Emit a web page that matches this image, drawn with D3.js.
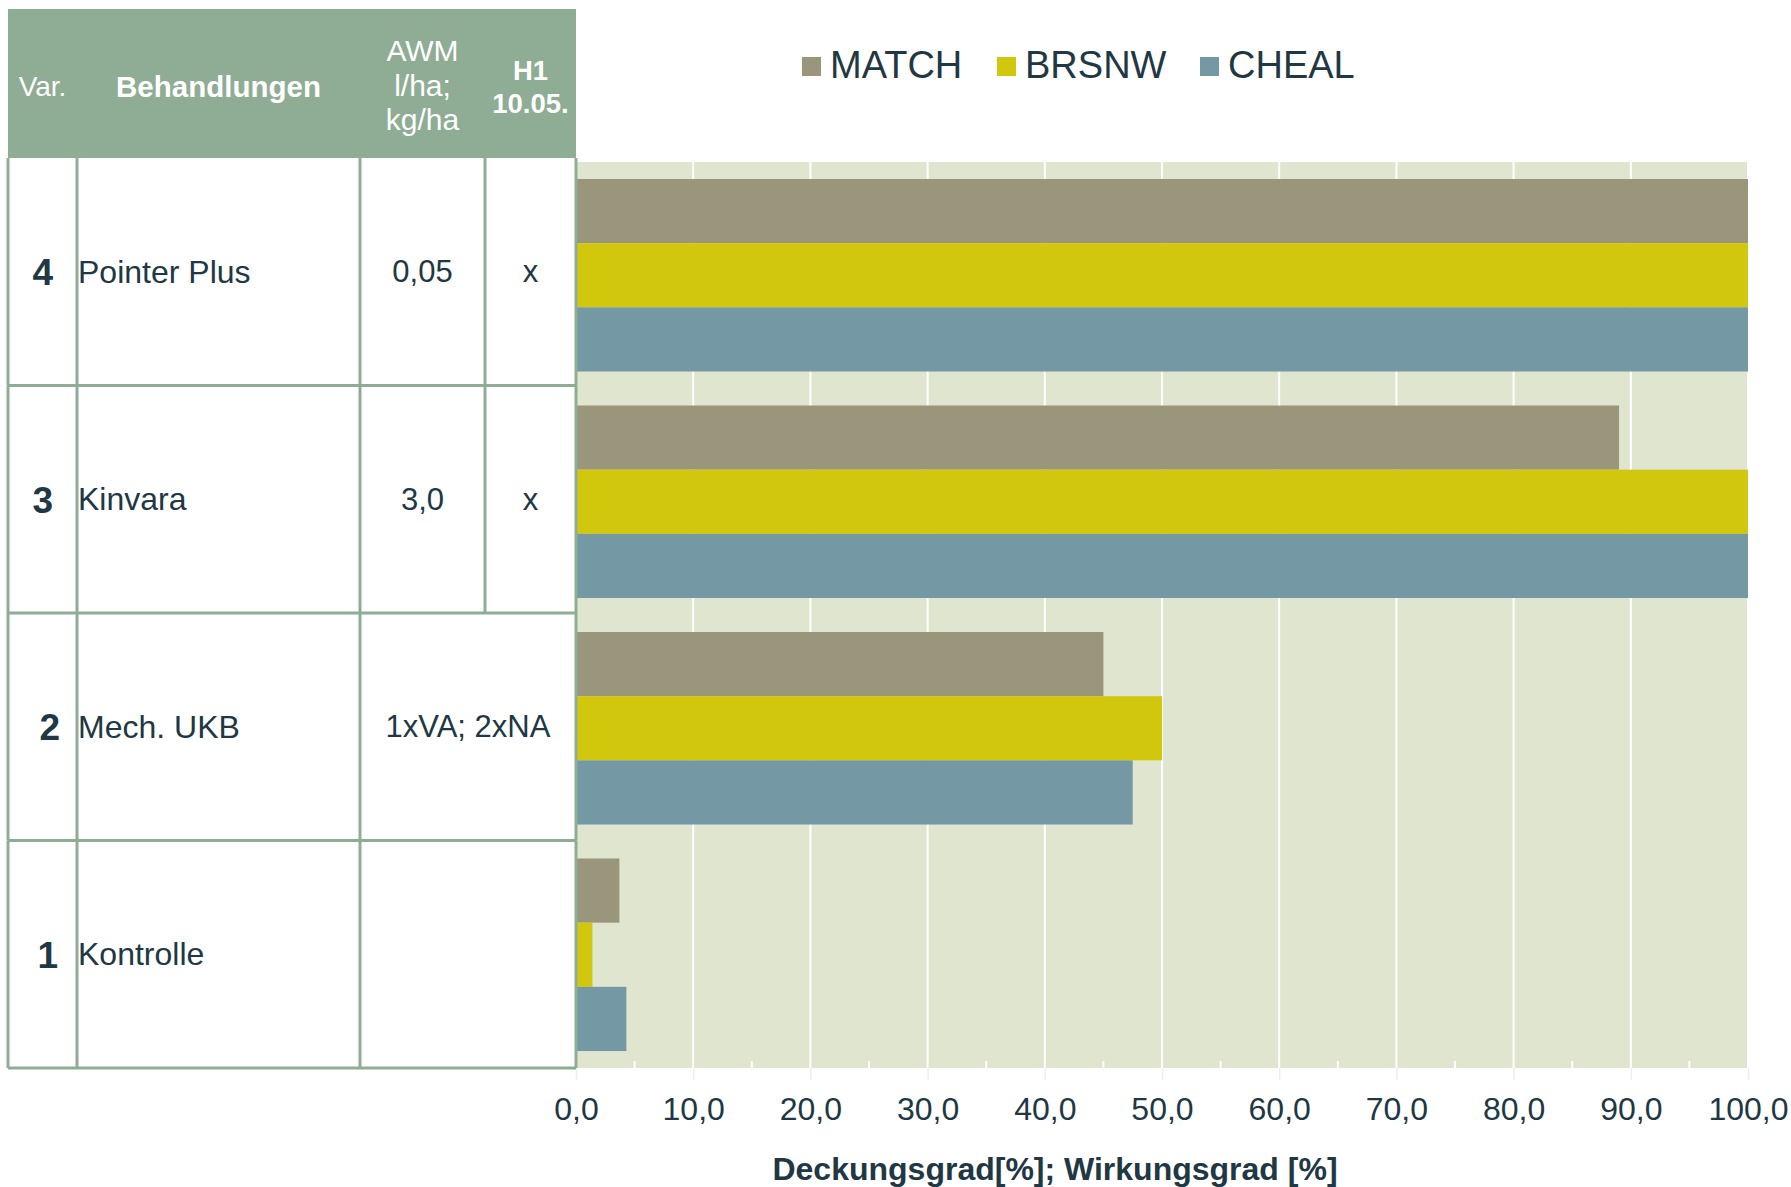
<!DOCTYPE html>
<html>
<head>
<meta charset="utf-8">
<script src="https://cdn.jsdelivr.net/npm/d3@7"></script>
<style>
  body { margin: 0; background: #fff; }
  text { font-family: "Liberation Sans", Arial, sans-serif; }
</style>
</head>
<body>
<div id="chart"></div>
<script>
// table rows (top to bottom)
const variants = ["4", "3", "2", "1"];
const treatments = ["Pointer Plus", "Kinvara", "Mech. UKB", "Kontrolle"];
const doses = ["0,05", "3,0", "1xVA; 2xNA", ""];
const h1 = ["x", "x", "", ""];
const merged = [false, false, true, true];

// series
const keys = ["MATCH", "BRSNW", "CHEAL"];
const match = [100, 89, 45, 3.7];
const brsnw = [100, 100, 50, 1.4];
const cheal = [100, 100, 47.5, 4.3];
const colors = ["#99967b", "#d1c70d", "#7499a5"];

const xTicks = [0, 10, 20, 30, 40, 50, 60, 70, 80, 90, 100];
const xMinor = [5, 15, 25, 35, 45, 55, 65, 75, 85, 95];

const width = 1791, height = 1187;
const green = "#8fac95", ink = "#213743", plotBg = "#dfe5cf";

const svg = d3.select("#chart")
  .append("svg")
  .attr("width", width)
  .attr("height", height);

const data = variants.map((v, i) => ({
  v: v, name: treatments[i], dose: doses[i], h1: h1[i], merged: merged[i],
  MATCH: match[i], BRSNW: brsnw[i], CHEAL: cheal[i]
}));

// columns of the table
const col = { left: 8, name: 77, dose: 360, h1: 485, right: 576 };
const headTop = 9, bodyTop = 158, bottom = 1068;
const plotRight = 1748, plotTop = 162;
// right edge of the variant numbers (they are not quite aligned in the original)
const numRight = [53, 53, 60, 58];

// scales
const x = d3.scaleLinear().domain([0, 100]).range([col.right, plotRight]);
const rowY = d3.scaleBand().domain(variants).range([bodyTop, bottom]);
const y0 = d3.scaleBand().domain(variants).range([plotTop, bottom])
  .paddingInner(0.15).paddingOuter(0.075);
const y1 = d3.scaleBand().domain(keys).range([0, y0.bandwidth()]);
const color = d3.scaleOrdinal().domain(keys).range(colors);

// plot background
svg.append("rect")
  .attr("x", x(0)).attr("y", plotTop)
  .attr("width", x(100) - x(0)).attr("height", bottom - plotTop)
  .attr("fill", plotBg);

// x axis with comma decimals
const de = d3.formatLocale({ decimal: ",", thousands: ".", grouping: [3], currency: ["", " €"] });
const xAxis = svg.append("g")
  .attr("transform", `translate(0, ${bottom})`)
  .call(d3.axisBottom(x).tickValues(xTicks).tickFormat(de.format(".1f")).tickSize(12).tickPadding(17));
xAxis.select(".domain").remove();
xAxis.selectAll(".tick line").attr("stroke", "#eeeeee").attr("stroke-width", 1.5);
xAxis.selectAll(".tick text").attr("fill", ink).style("font-size", "32px");

// gridlines
svg.append("g")
  .selectAll("line")
  .data(xTicks.slice(1))
  .join("line")
  .attr("x1", d => x(d)).attr("x2", d => x(d))
  .attr("y1", plotTop).attr("y2", bottom)
  .attr("stroke", "#ffffff").attr("stroke-width", 2);

// minor ticks
svg.append("g")
  .selectAll("line")
  .data(xMinor)
  .join("line")
  .attr("x1", d => x(d)).attr("x2", d => x(d))
  .attr("y1", bottom - 7).attr("y2", bottom)
  .attr("stroke", "#ffffff").attr("stroke-width", 2);

// bars
svg.append("g")
  .selectAll("g")
  .data(data)
  .join("g")
  .attr("transform", d => `translate(0, ${y0(d.v)})`)
  .selectAll("rect")
  .data(d => keys.map(k => ({ key: k, value: d[k] })))
  .join("rect")
  .attr("x", x(0))
  .attr("y", d => y1(d.key))
  .attr("width", d => x(d.value) - x(0))
  .attr("height", y1.bandwidth())
  .attr("fill", d => color(d.key));

// axis title
svg.append("text")
  .attr("x", 1055).attr("y", 1169)
  .attr("text-anchor", "middle")
  .attr("dominant-baseline", "central")
  .attr("fill", ink)
  .style("font-size", "32px").style("font-weight", "bold")
  .text("Deckungsgrad[%]; Wirkungsgrad [%]");

// ---- table ----
const table = svg.append("g");

// header
table.append("rect")
  .attr("x", col.left).attr("y", headTop)
  .attr("width", col.right - col.left).attr("height", bodyTop - headTop)
  .attr("fill", green);

const headMid = 86;
table.append("text")
  .attr("x", (col.left + col.name) / 2).attr("y", headMid)
  .attr("text-anchor", "middle").attr("dominant-baseline", "central")
  .attr("fill", "#fff").style("font-size", "28px")
  .text("Var.");
table.append("text")
  .attr("x", (col.name + col.dose) / 2).attr("y", headMid)
  .attr("text-anchor", "middle").attr("dominant-baseline", "central")
  .attr("fill", "#fff").style("font-size", "29.5px").style("font-weight", "bold")
  .text("Behandlungen");
table.append("text")
  .attr("text-anchor", "middle").attr("fill", "#fff").style("font-size", "30px")
  .selectAll("tspan")
  .data(["AWM", "l/ha;", "kg/ha"])
  .join("tspan")
  .attr("x", (col.dose + col.h1) / 2)
  .attr("y", (d, i) => 61 + i * 34.5)
  .text(d => d);
table.append("text")
  .attr("text-anchor", "middle").attr("fill", "#fff")
  .style("font-size", "27.5px").style("font-weight", "bold")
  .selectAll("tspan")
  .data(["H1", "10.05."])
  .join("tspan")
  .attr("x", (col.h1 + col.right) / 2)
  .attr("y", (d, i) => 80 + i * 33)
  .text(d => d);

// body rows
const rows = table.selectAll("g.row")
  .data(data)
  .join("g")
  .attr("class", "row")
  .attr("transform", d => `translate(0, ${rowY(d.v)})`);

const rh = rowY.bandwidth();

rows.append("text")
  .attr("x", (d, i) => numRight[i]).attr("y", rh / 2 + 1)
  .attr("text-anchor", "end").attr("dominant-baseline", "central")
  .attr("fill", ink).style("font-size", "37px").style("font-weight", "bold")
  .text(d => d.v);
rows.append("text")
  .attr("x", col.name + 1).attr("y", rh / 2)
  .attr("dominant-baseline", "central")
  .attr("fill", ink).style("font-size", "32px")
  .text(d => d.name);
rows.append("text")
  .attr("x", d => d.merged ? (col.dose + col.right) / 2 : (col.dose + col.h1) / 2)
  .attr("y", rh / 2)
  .attr("text-anchor", "middle").attr("dominant-baseline", "central")
  .attr("fill", ink).style("font-size", "31px")
  .text(d => d.dose);
rows.append("text")
  .attr("x", (col.h1 + col.right) / 2).attr("y", rh / 2)
  .attr("text-anchor", "middle").attr("dominant-baseline", "central")
  .attr("fill", ink).style("font-size", "31px")
  .text(d => d.h1);

// grid lines of the table
rows.append("line")
  .attr("x1", col.left).attr("x2", col.right)
  .attr("y1", rh).attr("y2", rh);
[col.left, col.name, col.dose, col.right].forEach(c => {
  rows.append("line").attr("x1", c).attr("x2", c).attr("y1", 0).attr("y2", rh);
});
rows.filter(d => !d.merged)
  .append("line").attr("x1", col.h1).attr("x2", col.h1).attr("y1", 0).attr("y2", rh);
rows.selectAll("line").attr("stroke", green).attr("stroke-width", 3);

// legend
const legX = [802, 997, 1200];
const legend = svg.append("g")
  .selectAll("g")
  .data(keys)
  .join("g")
  .attr("transform", (d, i) => `translate(${legX[i]}, 57)`);
legend.append("rect")
  .attr("width", 19).attr("height", 19)
  .attr("fill", d => color(d));
legend.append("text")
  .attr("x", 28).attr("y", 8)
  .attr("dominant-baseline", "central")
  .attr("fill", ink).style("font-size", "38px")
  .text(d => d);
</script>
</body>
</html>
